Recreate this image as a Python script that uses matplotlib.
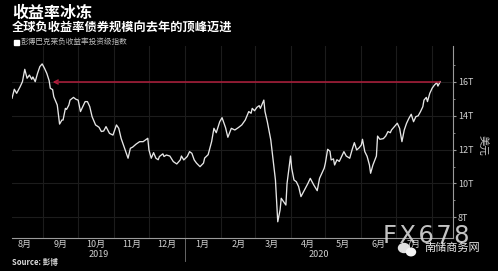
import numpy as np
import pandas as pd
import matplotlib as mpl
mpl.use('Agg')
import matplotlib.pyplot as plt
import matplotlib.dates as mdates
import matplotlib.transforms as mtransforms
from matplotlib.patches import Ellipse

plt.rcParams['font.family'] = ['Noto Sans CJK SC', 'DejaVu Sans']

# Chart text
title = "收益率冰冻"
subtitle = "全球负收益率债券规模向去年的顶峰迈进"
legend_label = "彭博巴克莱负收益率投资级指数"
unit_label = "美元"
source = "Source: 彭博"

# Bloomberg Barclays negative-yielding index, market value (trillion USD)
dates = [
    "2019-08-05", "2019-08-07", "2019-08-09", "2019-08-12", "2019-08-14", "2019-08-16",
    "2019-08-18", "2019-08-20", "2019-08-22", "2019-08-23", "2019-08-25", "2019-08-27",
    "2019-08-29", "2019-08-31", "2019-09-02", "2019-09-04", "2019-09-06", "2019-09-07",
    "2019-09-09", "2019-09-10", "2019-09-13", "2019-09-14", "2019-09-15", "2019-09-17",
    "2019-09-18", "2019-09-20", "2019-09-21", "2019-09-23", "2019-09-24", "2019-09-27",
    "2019-09-29", "2019-10-01", "2019-10-03", "2019-10-05", "2019-10-07", "2019-10-09",
    "2019-10-11", "2019-10-13", "2019-10-16", "2019-10-19", "2019-10-21", "2019-10-23",
    "2019-10-25", "2019-10-28", "2019-10-31", "2019-11-03", "2019-11-05", "2019-11-07",
    "2019-11-10", "2019-11-13", "2019-11-15", "2019-11-17", "2019-11-20", "2019-11-23",
    "2019-11-26", "2019-11-28", "2019-11-30", "2019-12-01", "2019-12-03", "2019-12-05",
    "2019-12-07", "2019-12-09", "2019-12-10", "2019-12-13", "2019-12-14", "2019-12-16",
    "2019-12-19", "2019-12-22", "2019-12-25", "2019-12-28", "2019-12-29", "2019-12-31",
    "2020-01-03", "2020-01-05", "2020-01-07", "2020-01-09", "2020-01-11", "2020-01-14",
    "2020-01-17", "2020-01-18", "2020-01-21", "2020-01-24", "2020-01-26", "2020-01-28",
    "2020-01-31", "2020-02-02", "2020-02-05", "2020-02-07", "2020-02-10", "2020-02-13",
    "2020-02-16", "2020-02-19", "2020-02-22", "2020-02-25", "2020-02-27", "2020-02-28",
    "2020-03-01", "2020-03-03", "2020-03-05", "2020-03-06", "2020-03-09", "2020-03-10",
    "2020-03-12", "2020-03-15", "2020-03-17", "2020-03-19", "2020-03-20", "2020-03-21",
    "2020-03-23", "2020-03-24", "2020-03-26", "2020-03-28", "2020-03-29", "2020-03-31",
    "2020-04-01", "2020-04-02", "2020-04-04", "2020-04-06", "2020-04-08", "2020-04-10",
    "2020-04-13", "2020-04-16", "2020-04-18", "2020-04-21", "2020-04-24", "2020-04-26",
    "2020-04-28", "2020-04-30", "2020-05-01", "2020-05-03", "2020-05-05", "2020-05-06",
    "2020-05-08", "2020-05-09", "2020-05-11", "2020-05-13", "2020-05-15", "2020-05-17",
    "2020-05-19", "2020-05-22", "2020-05-24", "2020-05-26", "2020-05-28", "2020-05-30",
    "2020-06-01", "2020-06-02", "2020-06-04", "2020-06-06", "2020-06-08", "2020-06-09",
    "2020-06-11", "2020-06-14", "2020-06-15", "2020-06-17", "2020-06-20", "2020-06-22",
    "2020-06-24", "2020-06-26", "2020-06-27", "2020-06-30", "2020-07-02", "2020-07-04",
    "2020-07-06", "2020-07-08", "2020-07-10", "2020-07-12", "2020-07-14", "2020-07-16",
    "2020-07-18", "2020-07-20", "2020-07-22", "2020-07-24", "2020-07-25", "2020-07-27",
    "2020-07-28", "2020-07-30", "2020-08-01", "2020-08-03", "2020-08-05", "2020-08-06",
    "2020-08-08",
]
values = [
    15.04, 15.57, 15.33, 15.72, 16.02, 16.75,
    16.22, 16.41, 16.16, 16.30, 16.02, 16.51,
    16.91, 17.07, 16.81, 16.51, 16.08, 15.63,
    15.55, 15.13, 14.64, 14.05, 13.51, 13.75,
    13.75, 14.44, 14.38, 14.64, 14.93, 15.09,
    14.98, 14.93, 14.25, 14.54, 14.84, 14.84,
    14.54, 13.95, 13.46, 13.32, 13.07, 13.10,
    13.36, 12.96, 12.86, 13.46, 13.26, 12.67,
    12.08, 11.49, 12.08, 12.15, 12.33, 12.47,
    12.47, 12.57, 12.67, 11.98, 11.49, 11.82,
    11.49, 11.40, 11.59, 11.75, 11.59, 11.68,
    11.62, 11.29, 11.15, 11.39, 11.62, 11.39,
    11.59, 11.88, 11.78, 11.39, 11.20, 10.99,
    11.20, 11.50, 11.70, 12.47, 13.26, 13.00,
    13.65, 13.89, 13.30, 12.73, 13.26, 13.16,
    13.30, 13.46, 13.75, 14.25, 14.15, 14.44,
    14.30, 14.50, 14.60, 14.44, 14.93, 14.25,
    13.65, 12.57, 11.39, 10.20, 9.02, 7.73,
    8.43, 9.12, 8.92, 8.72, 10.00, 11.09,
    11.62, 10.90, 10.20, 10.10, 9.81, 9.22,
    9.61, 10.00, 10.30, 9.91, 9.57, 10.30,
    10.60, 10.90, 11.19, 12.02, 11.90, 11.39,
    11.45, 11.09, 11.40, 11.30, 11.59, 11.88,
    11.62, 11.49, 11.98, 12.41, 11.98, 12.10,
    12.27, 12.61, 11.88, 11.60, 11.09, 10.60,
    11.09, 11.62, 12.80, 12.61, 12.65, 12.80,
    13.07, 13.00, 13.16, 13.40, 13.56, 13.26,
    12.47, 13.16, 13.56, 13.85, 14.09, 13.65,
    13.95, 14.00, 14.25, 14.54, 14.93, 15.09,
    14.84, 15.33, 15.63, 15.82, 15.96, 15.76,
    16.02,
]

# Reference line back to last year's peak
peak_level = 16.0
arrow_from = "2020-08-08"
arrow_to = "2019-09-09"

y_ticks = [8, 10, 12, 14, 16]
y_tick_labels = ["8T", "10T", "12T", "14T", "16T"]
month_labels = ["8月", "9月", "10月", "11月", "12月", "1月", "2月", "3月", "4月", "5月", "6月", "7月"]
year_labels = ["2019", "2020"]

dates = pd.to_datetime(dates)
x_start = pd.Timestamp("2019-08-05")
x_end = pd.Timestamp("2020-08-19")

bg = "black"
fig = plt.figure(figsize=(4.98, 2.71), dpi=100, facecolor=bg)
ax = fig.add_axes([12/498, 33/271, 441/498, 192/271], facecolor=bg)

ax.plot(dates, values, color="#e6e6e6", lw=0.95, zorder=3)
ax.annotate("", xy=(pd.Timestamp(arrow_to), peak_level),
            xytext=(pd.Timestamp(arrow_from), peak_level),
            arrowprops=dict(arrowstyle="->", color="#b01e3c", lw=1.1,
                            shrinkA=0, shrinkB=0, mutation_scale=7),
            zorder=4)

ax.set_xlim(x_start, x_end)
ax.set_ylim(6.77, 18.13)

# y axis on the right
ax.yaxis.tick_right()
ax.set_yticks(y_ticks)
ax.set_yticklabels(y_tick_labels)
ax.set_yticks([9, 11, 13, 15, 17], minor=True)
ax.tick_params(axis="y", which="major", direction="out", length=2, width=0.8,
               colors="#9a9a9a", labelcolor="#d0d0d0", labelsize=6.5, pad=1.5)
ax.tick_params(axis="y", which="minor", direction="out", length=1.5, width=0.6,
               colors="#9a9a9a")

# x axis: gridlines at month starts, labels at mid-month
month_starts = pd.date_range("2019-09-01", "2020-08-01", freq="MS")
mid_months = pd.date_range("2019-08-01", "2020-07-01", freq="MS") + pd.Timedelta(days=15)
ax.set_xticks(month_starts)
ax.set_xticklabels([])
ax.set_xticks(mid_months, minor=True)
ax.set_xticklabels(month_labels, minor=True)
ax.tick_params(axis="x", which="major", length=0)
ax.tick_params(axis="x", which="minor", length=0, labelcolor="#d0d0d0",
               labelsize=6.5, pad=1.5)

ax.grid(True, which="major", color="#1c1c1c", lw=0.8)
ax.set_axisbelow(True)

for side in ["top", "left"]:
    ax.spines[side].set_visible(False)
ax.spines["right"].set_color("#9a9a9a")
ax.spines["bottom"].set_color("#9a9a9a")
ax.spines["right"].set_linewidth(0.8)
ax.spines["bottom"].set_linewidth(0.8)

# year labels and year divider
trans = mtransforms.blended_transform_factory(ax.transData, ax.transAxes)
jan1 = pd.Timestamp("2020-01-01")
ax.plot([jan1, jan1], [0, -0.12], transform=trans, color="#777777", lw=0.6,
        clip_on=False)
year_mids = [x_start + (jan1 - x_start) / 2, jan1 + (x_end - jan1) / 2]
for xm, lab in zip(year_mids, year_labels):
    ax.text(xm, -0.085, lab, transform=trans, ha="center", va="center",
            color="#d0d0d0", fontsize=6.5)

# unit label
fig.text(482/498, 1 - 145/271, unit_label, rotation=270, ha="center", va="center",
         color="#cccccc", fontsize=7.5)

# titles and legend
fig.text(12/498, 1 - 13/271, title, color="white", fontsize=11.5, fontweight="bold",
         ha="left", va="center")
fig.text(12/498, 1 - 28/271, subtitle, color="white", fontsize=8.8, fontweight="bold",
         ha="left", va="center")
fig.patches.append(plt.Rectangle((14/498, 1 - 44.5/271), 4.5/498, 4.5/271,
                                 transform=fig.transFigure, color="white"))
fig.text(20.5/498, 1 - 42/271, legend_label, color="#bbbbbb", fontsize=5.5,
         ha="left", va="center")
fig.text(12/498, 1 - 263/271, source, color="#dddddd", fontsize=5.5, fontweight="bold",
         ha="left", va="center")

# watermark
fig.text(426/498, 1 - 236/271, "F\u200aX\u200a6\u200a7\u200a8", color="#d8d8d8",
         alpha=0.9, fontsize=17.5, ha="center", va="center",
         family="DejaVu Sans", zorder=10)
fig.patches.append(Ellipse((404/498, 1 - 248/271), 11/498, 9/271,
                           transform=fig.transFigure, color="#e0e0e0", zorder=10))
fig.patches.append(Ellipse((411/498, 1 - 252/271), 9/498, 7.5/271,
                           transform=fig.transFigure, color="#f4f4f4", zorder=10))
fig.text(452/498, 1 - 248/271, "南储商务网", color="#e8e8e8", fontsize=8,
         ha="center", va="center", zorder=10)

fig.savefig("out.png", dpi=100, facecolor=bg)
